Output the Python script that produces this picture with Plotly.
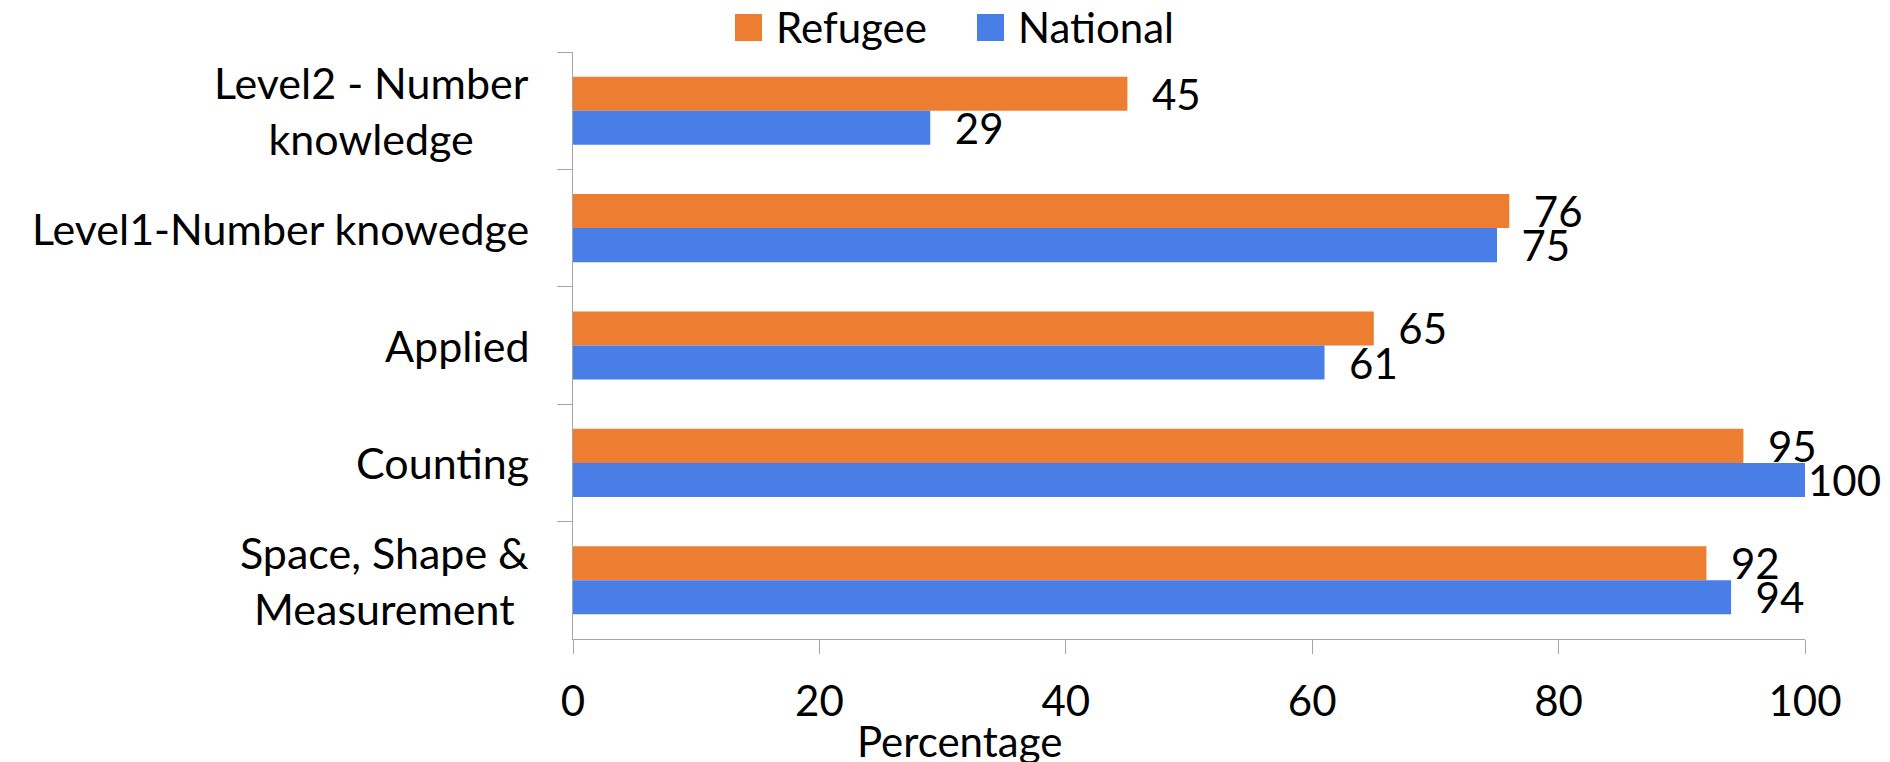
import plotly.graph_objects as go

# ---- data ----
categories = ["Level2 - Number<br>knowledge", "Level1-Number knowedge", "Applied",
              "Counting", "Space, Shape &<br>Measurement"]
refugee = [45, 76, 65, 95, 92]
national = [29, 75, 61, 100, 94]
series_names = ["Refugee", "National"]
series_colors = ["#ED7D31", "#497EE6"]
x_ticks = [0, 20, 40, 60, 80, 100]
x_title = "Percentage"

# ---- layout geometry (pixels) ----
W, H = 1890, 762
L, R, T, B = 573, 85, 52, 123
PW, PH = W - L - R, H - T - B
FONT = "Lato"
AXIS_GRAY = "#A6A6A6"
X_MAX = 100


def px_x(px):
    return (px - L) / PW


def px_y(py):
    return (H - B - py) / PH


def label_templates(vals):
    # labels sit a little away from the bar end, except at the axis maximum
    return ["%{x}" if v >= X_MAX else "\u00a0\u00a0%{x}" for v in vals]


fig = go.Figure()
for name, vals, col in zip(series_names, [refugee, national], series_colors):
    fig.add_trace(go.Bar(
        y=categories, x=vals, name=name, orientation="h",
        marker=dict(color=col, line=dict(width=0)),
        texttemplate=label_templates(vals), textposition="outside",
        textfont=dict(family=FONT, size=42, color="#000000"),
        constraintext="none", cliponaxis=False, showlegend=False,
    ))

annotations = []
shapes = []
# category labels (centered lines, right-aligned block)
for c in categories:
    annotations.append(dict(
        x=0, xref="paper", xshift=531 - L, xanchor="right",
        y=c, yref="y", yanchor="middle", align="center",
        text=c, showarrow=False,
        font=dict(family=FONT, size=43, color="#000000"),
    ))

# manual legend with large square keys
legend_x = [735, 977]
sq = 27
for lx, name, col in zip(legend_x, series_names, series_colors):
    shapes.append(dict(
        type="rect", xref="paper", yref="paper",
        x0=px_x(lx), x1=px_x(lx + sq), y0=px_y(14 + sq), y1=px_y(14),
        fillcolor=col, line=dict(width=0),
    ))
    annotations.append(dict(
        x=px_x(lx + sq + 12), xref="paper", xanchor="left",
        y=px_y(27), yref="paper", yanchor="middle",
        text=name, showarrow=False,
        font=dict(family=FONT, size=42, color="#000000"),
    ))

# x-axis title
annotations.append(dict(
    x=px_x(959), xref="paper", xanchor="center",
    y=px_y(714), yref="paper", yanchor="top",
    text=x_title, showarrow=False,
    font=dict(family=FONT, size=42, color="#000000"),
))

fig.update_layout(
    width=W, height=H,
    margin=dict(l=L, r=R, t=T, b=B, pad=0),
    paper_bgcolor="white", plot_bgcolor="white",
    barmode="group", bargap=0.42, bargroupgap=0,
    showlegend=False,
    font=dict(family=FONT, size=42, color="#000000"),
    annotations=annotations, shapes=shapes,
)
fig.update_xaxes(
    range=[0, X_MAX], tickvals=x_ticks, ticktext=[str(v) for v in x_ticks],
    showgrid=False, zeroline=False,
    showline=True, linecolor=AXIS_GRAY, linewidth=1.3,
    ticks="outside", ticklen=14, tickcolor=AXIS_GRAY, tickwidth=1.3,
    tickfont=dict(family=FONT, size=42, color="#000000"),
    ticklabelstandoff=11,
)
fig.update_yaxes(
    type="category", autorange="reversed",
    showgrid=False, zeroline=False,
    showline=True, linecolor=AXIS_GRAY, linewidth=1.3,
    ticks="outside", ticklen=15, tickcolor=AXIS_GRAY, tickwidth=1.3,
    tickson="boundaries", showticklabels=False,
)

fig.write_html("out.html")
